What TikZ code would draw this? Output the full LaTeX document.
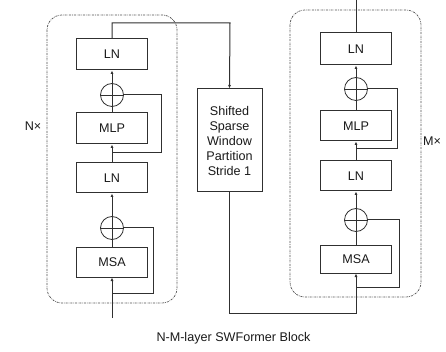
\documentclass[tikz,border=0pt]{standalone}
\usepackage{fontspec}
\setmainfont{Liberation Sans}
\usetikzlibrary{arrows.meta}
\definecolor{ink}{HTML}{303030}
\tikzset{
  every node/.style={font=\fontsize{12.6}{15}\selectfont, text=black!90},
  block/.style={draw=ink, line width=1pt, minimum width=71pt, inner sep=0pt, align=center},
  adder/.style={draw=ink, line width=0.8pt, circle, minimum size=23pt, inner sep=0pt},
  wire/.style={draw=ink, line width=1pt},
  feed/.style={wire, -{Latex[length=3.5pt,width=3pt]}},
  group/.style={draw=ink!85, line width=0.7pt, rounded corners=15pt,
    dash pattern=on 2pt off 1pt on 0.6pt off 1pt},
}
\newcommand{\plusmark}[1]{\draw[ink, line width=0.8pt] (#1.north) -- (#1.south) (#1.west) -- (#1.east);}
\begin{document}
\begin{tikzpicture}[x=1pt, y=-1pt]
\useasboundingbox (0,0) rectangle (446,352);

% repeated groups
\draw[group] (47,15) rectangle (177,303);
\draw[group] (290,10) rectangle (421,297);

% left stack (N layers)
\node[block, minimum height=31pt] (lnA) at (112,54.5) {LN};
\node[adder] (addA) at (112,95) {};
\node[block, minimum height=31pt] (mlpA) at (112,128.5) {MLP};
\node[block, minimum height=30pt] (lnB) at (112,178) {LN};
\node[adder] (addB) at (112,228) {};
\node[block, minimum height=30pt] (msaA) at (112,262) {MSA};
\plusmark{addA}\plusmark{addB}

% window partition between the stacks
\node[block, minimum width=65pt, minimum height=103pt] (shift) at (229.5,140.5)
  {Shifted\\Sparse\\Window\\Partition\\Stride 1};

% right stack (M layers)
\node[block, minimum height=32pt] (lnC) at (356,49) {LN};
\node[adder] (addC) at (356,89) {};
\node[block, minimum height=30pt] (mlpB) at (356,126) {MLP};
\node[block, minimum height=30pt] (lnD) at (356,176) {LN};
\node[adder] (addD) at (356,220) {};
\node[block, minimum height=28pt] (msaB) at (356,259) {MSA};
\plusmark{addC}\plusmark{addD}

% free ends and bends
\coordinate (inA) at (112,318);
\coordinate (outB) at (356,0);

% left stack wiring
\draw[feed] (inA) -- (msaA.south);
\draw[wire] (112,293) -| (153,228) -- (addB.east);
\draw[wire] (msaA.north) -- (addB.south);
\draw[feed] (addB.north) -- (lnB.south);
\draw[feed] (lnB.north) -- (mlpA.south);
\draw[wire] (112,153) -| (161,95) -- (addA.east);
\draw[wire] (mlpA.north) -- (addA.south);
\draw[feed] (addA.north) -- (lnA.south);
\draw[feed] (lnA.north) |- (230,23) -- (shift.north);

% into the right stack
\draw[feed] (shift.south) |- (356,313) -- (msaB.south);

% right stack wiring
\draw[wire] (356,287) -| (399,220) -- (addD.east);
\draw[wire] (msaB.north) -- (addD.south);
\draw[feed] (addD.north) -- (lnD.south);
\draw[feed] (lnD.north) -- (mlpB.south);
\draw[wire] (356,149) -| (397,89) -- (addC.east);
\draw[wire] (mlpB.north) -- (addC.south);
\draw[feed] (addC.north) -- (lnC.south);
\draw[wire] (lnC.north) -- (outB);

% labels
\node (nx) at (33,126) {N×};
\node (mx) at (432,141) {M×};
\node (title) at (233.5,338) {N-M-layer SWFormer Block};
\end{tikzpicture}
\end{document}
